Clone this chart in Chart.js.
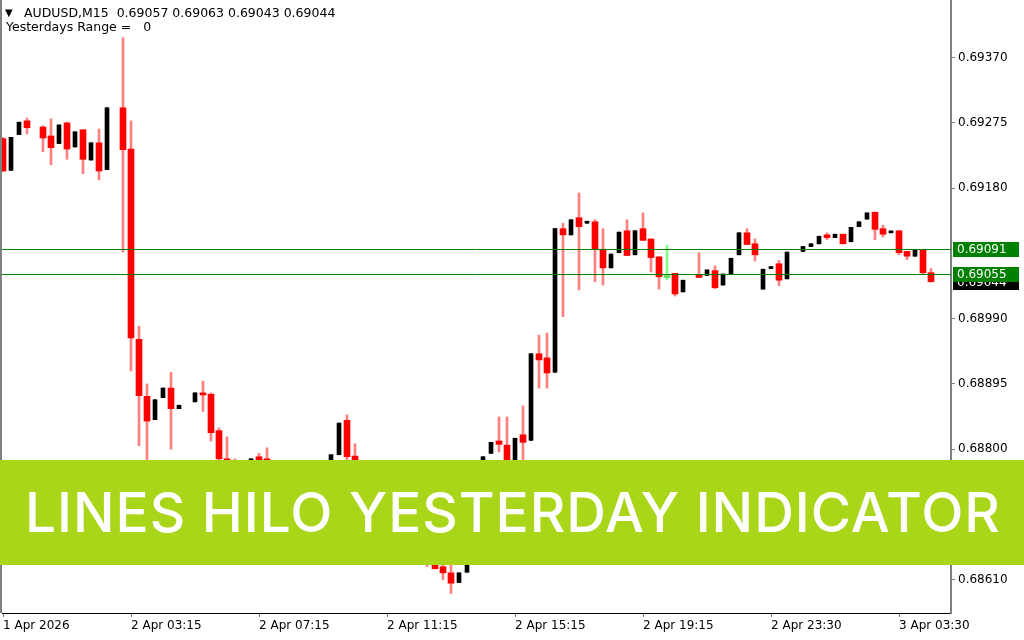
<!DOCTYPE html>
<html>
<head>
<meta charset="utf-8">
<script src="https://cdn.jsdelivr.net/npm/chart.js@4.4.1/dist/chart.umd.min.js"></script>
<style>
  html, body { margin: 0; padding: 0; background: #fff; }
  #wrap { position: relative; width: 1024px; height: 640px; overflow: hidden; }
  #c { display: block; }
  .hdr { position: absolute; font-family: "DejaVu Sans"; font-size: 12.5px; line-height: 14px; color: #000; white-space: pre; }
  #banner { position: absolute; left: 0; top: 460px; width: 1024px; height: 105px; background: #aad619; }
  #bannerText { position: absolute; left: 25px; top: 0; line-height: 105px; color: #fff;
    font-family: Inter; font-weight: 500; font-size: 55px; white-space: nowrap; }
</style>
</head>
<body>
<div id="wrap">
  <canvas id="c" width="1024" height="640"></canvas>
  <div class="hdr" style="left:5px;top:6px;font-size:10px;">▼</div>
  <div class="hdr" id="hdr1" style="left:24px;top:6px;"></div>
  <div class="hdr" id="hdr2" style="left:6px;top:20px;"></div>
  <div id="banner"><span id="bannerText">LINES HILO YESTERDAY INDICATOR</span></div>
</div>
<script>
const symbol = "AUDUSD,M15";
const rangeText = "Yesterdays Range =   0";

// x axis labels and the bars they sit on (M15 bars)
const timeLabels = ["1 Apr 2026", "2 Apr 03:15", "2 Apr 07:15", "2 Apr 11:15",
                    "2 Apr 15:15", "2 Apr 19:15", "2 Apr 23:30", "3 Apr 03:30"];
const timeTickBars = [0, 16, 32, 48, 64, 80, 96, 112];

const priceTicks = [0.69370, 0.69275, 0.69180, 0.68990, 0.68895, 0.68800, 0.68705, 0.68610];

// yesterday's high / low lines
const yesterdayHigh = 0.69091;
const yesterdayLow = 0.69055;

// OHLC, null = no bar drawn
const opens = [
  0.69252, 0.69206, 0.69258, 0.69278, null, 0.69269, 0.69256, 0.69245, 0.69275, 0.69240,
  0.69265, 0.69221, 0.69246, 0.69207, null, 0.69297, 0.69237, 0.68960, 0.68877, 0.68843,
  0.68875, 0.68889, 0.68859, null, 0.68869, 0.68882, 0.68880, 0.68827, 0.68786, 0.68770,
  0.68748, 0.68770, 0.68789, 0.68786, 0.68758, 0.68733, 0.68748, 0.68729, 0.68712, 0.68738,
  0.68758, 0.68777, 0.68792, 0.68842, 0.68790, 0.68762, 0.68743, 0.68719, 0.68735, 0.68704,
  0.68682, 0.68704, 0.68675, 0.68656, 0.68642, 0.68629, 0.68620, 0.68606, 0.68621, 0.68650,
  0.68767, 0.68794, 0.68812, 0.68806, 0.68777, 0.68821, 0.68813, 0.68939, 0.68933, 0.68912,
  0.69121, 0.69112, 0.69137, 0.69129, 0.69131, 0.69090, 0.69064, 0.69086, 0.69118, 0.69083,
  0.69121, 0.69106, 0.69080, 0.69050, 0.69056, 0.69029, null, 0.69054, 0.69053, 0.69060,
  0.69039, 0.69055, 0.69083, 0.69115, 0.69099, 0.69033, 0.69063, 0.69070, 0.69048, null,
  0.69088, 0.69095, 0.69099, 0.69112, 0.69108, 0.69113, 0.69102, 0.69124, 0.69135, 0.69145,
  0.69121, 0.69115, 0.69118, 0.69088, 0.69081, 0.69090, 0.69057
];
const highs = [
  0.69254, 0.69254, 0.69276, 0.69282, null, 0.69271, 0.69281, 0.69272, 0.69276, 0.69262,
  0.69265, 0.69246, 0.69266, 0.69297, null, 0.69399, 0.69278, 0.68979, 0.68895, 0.68872,
  0.68889, 0.68912, 0.68864, null, 0.68882, 0.68899, 0.68882, 0.68831, 0.68818, 0.68786,
  0.68770, 0.68786, 0.68794, 0.68802, 0.68770, 0.68755, 0.68762, 0.68741, 0.68741, 0.68762,
  0.68781, 0.68792, 0.68838, 0.68850, 0.68808, 0.68784, 0.68755, 0.68741, 0.68743, 0.68719,
  0.68709, 0.68714, 0.68690, 0.68668, 0.68653, 0.68646, 0.68636, 0.68620, 0.68656, 0.68770,
  0.68789, 0.68810, 0.68847, 0.68847, 0.68816, 0.68863, 0.68939, 0.68966, 0.68969, 0.69121,
  0.69129, 0.69134, 0.69173, 0.69129, 0.69134, 0.69121, 0.69084, 0.69116, 0.69134, 0.69118,
  0.69144, 0.69106, 0.69080, 0.69097, 0.69056, 0.69046, null, 0.69086, 0.69061, 0.69067,
  0.69055, 0.69078, 0.69115, 0.69121, 0.69106, 0.69062, 0.69065, 0.69075, 0.69087, null,
  0.69095, 0.69099, 0.69110, 0.69115, 0.69113, 0.69113, 0.69123, 0.69131, 0.69144, 0.69145,
  0.69126, 0.69116, 0.69118, 0.69088, 0.69090, 0.69090, 0.69063
];
const lows = [
  0.69204, 0.69206, 0.69258, 0.69259, null, 0.69233, 0.69214, 0.69245, 0.69222, 0.69240,
  0.69201, 0.69221, 0.69192, 0.69207, null, 0.69087, 0.68914, 0.68805, 0.68770, 0.68843,
  0.68875, 0.68800, 0.68859, null, 0.68869, 0.68855, 0.68812, 0.68770, 0.68741, 0.68743,
  0.68741, 0.68767, 0.68755, 0.68748, 0.68726, 0.68726, 0.68719, 0.68704, 0.68709, 0.68733,
  0.68755, 0.68773, 0.68792, 0.68781, 0.68755, 0.68733, 0.68712, 0.68715, 0.68697, 0.68675,
  0.68680, 0.68668, 0.68646, 0.68629, 0.68626, 0.68610, 0.68590, 0.68606, 0.68621, 0.68646,
  0.68762, 0.68794, 0.68796, 0.68770, 0.68773, 0.68770, 0.68813, 0.68889, 0.68889, 0.68912,
  0.68993, 0.69112, 0.69032, 0.69129, 0.69044, 0.69039, 0.69064, 0.69086, 0.69082, 0.69083,
  0.69104, 0.69058, 0.69033, 0.69047, 0.69023, 0.69029, null, 0.69050, 0.69053, 0.69034,
  0.69039, 0.69055, 0.69083, 0.69098, 0.69074, 0.69033, 0.69063, 0.69038, 0.69048, null,
  0.69088, 0.69095, 0.69099, 0.69105, 0.69108, 0.69099, 0.69102, 0.69124, 0.69135, 0.69105,
  0.69109, 0.69115, 0.69083, 0.69076, 0.69081, 0.69055, 0.69043
];
const closes = [
  0.69205, 0.69254, 0.69276, 0.69268, null, 0.69253, 0.69239, 0.69272, 0.69237, 0.69262,
  0.69222, 0.69246, 0.69205, 0.69297, null, 0.69236, 0.68962, 0.68878, 0.68841, 0.68872,
  0.68889, 0.68859, 0.68864, null, 0.68882, 0.68879, 0.68824, 0.68786, 0.68762, 0.68758,
  0.68762, 0.68786, 0.68770, 0.68758, 0.68738, 0.68748, 0.68729, 0.68714, 0.68738, 0.68758,
  0.68777, 0.68792, 0.68838, 0.68789, 0.68762, 0.68743, 0.68723, 0.68735, 0.68704, 0.68685,
  0.68704, 0.68675, 0.68656, 0.68642, 0.68626, 0.68620, 0.68605, 0.68620, 0.68650, 0.68767,
  0.68789, 0.68810, 0.68807, 0.68777, 0.68816, 0.68810, 0.68939, 0.68930, 0.68911, 0.69121,
  0.69112, 0.69134, 0.69124, 0.69129, 0.69091, 0.69064, 0.69084, 0.69116, 0.69082, 0.69118,
  0.69104, 0.69079, 0.69051, 0.69050, 0.69026, 0.69046, null, 0.69050, 0.69061, 0.69035,
  0.69055, 0.69078, 0.69115, 0.69098, 0.69083, 0.69062, 0.69065, 0.69046, 0.69087, null,
  0.69095, 0.69099, 0.69110, 0.69108, 0.69113, 0.69099, 0.69123, 0.69131, 0.69144, 0.69120,
  0.69113, 0.69116, 0.69086, 0.69081, 0.69090, 0.69057, 0.69044
];

const highlightBar = 83; // the light green doji

const last = opens.length - 1;
document.getElementById("hdr1").textContent = symbol + "  " +
  [opens[last], highs[last], lows[last], closes[last]].map(v => v.toFixed(5)).join(" ");
document.getElementById("hdr2").textContent = rangeText;

// banner text stretched to the same width as the picture
const bt = document.getElementById("bannerText");
const bw = bt.getBoundingClientRect().width;
bt.style.letterSpacing = ((975 - bw) / (bt.textContent.length - 1)) + "px";

const wicks = [], wickColors = [];
const bearBodies = [], bearColors = [];
const bullBodies = [];

opens.forEach((o, i) => {
    if (o === null) return;
    const c = closes[i];
    const hl = i === highlightBar;
    const bear = c < o;
    wicks.push({ x: i, y: [lows[i], highs[i]] });
    wickColors.push(hl ? "#80ff80" : bear ? "#ff8080" : "#000000");
    if (bear || hl) {
        bearBodies.push({ x: i, y: [c, o] });
        bearColors.push(hl ? "#5cdc5c" : "#ff0000");
    } else {
        bullBodies.push({ x: i, y: [o, c] });
    }
});

const overlay = {
    id: "overlay",
    afterDatasetsDraw(chart) {
        const { ctx, chartArea: a, scales: { y } } = chart;
        ctx.save();
        ctx.strokeStyle = "#008000";
        ctx.lineWidth = 1;
        [yesterdayHigh, yesterdayLow].forEach(v => {
            const py = Math.round(y.getPixelForValue(v)) + 0.5;
            ctx.beginPath();
            ctx.moveTo(a.left, py);
            ctx.lineTo(a.right, py);
            ctx.stroke();
        });
        ctx.restore();
    },
    afterDraw(chart) {
        const { ctx, chartArea: a, scales: { y } } = chart;
        ctx.save();
        ctx.fillStyle = "#808080";
        ctx.fillRect(0, 0, 2, a.bottom);

        const box = (v, bg) => {
            const py = Math.round(y.getPixelForValue(v));
            ctx.fillStyle = bg;
            ctx.fillRect(a.right + 2, py - 7, 66, 15);
            ctx.fillStyle = "#ffffff";
            ctx.font = "12px 'DejaVu Sans'";
            ctx.textBaseline = "middle";
            ctx.fillText(v.toFixed(5), a.right + 6, py + 1);
        };
        box(closes[last], "#000000");
        box(yesterdayHigh, "#008000");
        box(yesterdayLow, "#008000");
        ctx.restore();
    }
};

new Chart(document.getElementById("c"), {
    type: "bar",
    data: {
        datasets: [
            { data: bearBodies, backgroundColor: bearColors, barThickness: 6, grouped: false, order: 1, minBarLength: 2 },
            { data: bullBodies, backgroundColor: "#000000", barThickness: 4, grouped: false, order: 1, minBarLength: 2 },
            { data: wicks, backgroundColor: wickColors, barThickness: 2, grouped: false, order: 3 }
        ]
    },
    options: {
        responsive: false,
        animation: false,
        layout: { padding: { left: 2, top: 0, right: 0, bottom: 0 } },
        plugins: { legend: { display: false }, tooltip: { enabled: false } },
        scales: {
            x: {
                type: "linear",
                offset: false,
                min: -0.125,
                max: 118.5,
                afterBuildTicks: axis => { axis.ticks = timeTickBars.map(v => ({ value: v })); },
                afterFit: axis => { axis.height = 27; axis.paddingLeft = 0; axis.paddingRight = 0; },
                ticks: {
                    autoSkip: false,
                    maxRotation: 0,
                    align: "start",
                    padding: 2,
                    color: "#000000",
                    font: { family: "DejaVu Sans", size: 12 },
                    callback: v => timeLabels[timeTickBars.indexOf(v)]
                },
                grid: { drawOnChartArea: false, offset: false, tickLength: 4, color: "#808080" },
                border: { color: "#000000", width: 1 }
            },
            y: {
                position: "right",
                min: 0.685616,
                max: 0.694539,
                afterBuildTicks: axis => { axis.ticks = priceTicks.map(v => ({ value: v })); },
                afterFit: axis => { axis.width = 73; axis.paddingTop = 0; axis.paddingBottom = 0; },
                ticks: {
                    padding: 3,
                    color: "#000000",
                    font: { family: "DejaVu Sans", size: 12 },
                    callback: v => v.toFixed(5)
                },
                grid: { drawOnChartArea: false, tickLength: 4, color: "#808080" },
                border: { color: "#808080", width: 2 }
            }
        }
    },
    plugins: [overlay]
});
</script>
</body>
</html>
